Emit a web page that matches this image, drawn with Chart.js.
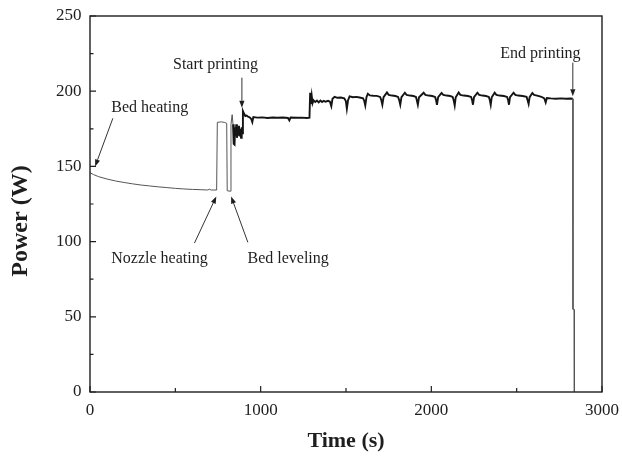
<!DOCTYPE html>
<html>
<head>
<meta charset="utf-8">
<script src="https://cdn.jsdelivr.net/npm/chart.js@4/dist/chart.umd.min.js"></script>
<style>
  html, body { margin: 0; padding: 0; background: #fff; }
  #wrap { width: 622px; height: 456px; }
</style>
</head>
<body>
<div id="wrap"><canvas id="c" width="622" height="456"></canvas></div>
<script>
// Printer power draw over one print job
const time = [
  0, 20, 50, 100, 150, 200, 250, 300, 350, 400, 450, 500, 550, 600, 650, 690, 700, 710, 742,
  746, 770, 790, 801, 804, 822, 826, 833, 838, 842, 847, 850, 853, 857, 861, 865, 869, 873, 877, 881, 885, 889, 893,
  896, 903, 910, 918, 926, 935, 945, 951, 957, 980, 1010, 1040, 1070, 1100, 1130, 1160, 1168, 1175, 1210, 1240, 1270, 1286,
  1290, 1294, 1299, 1304, 1310, 1320, 1330, 1340, 1350, 1360, 1370, 1380, 1395, 1406, 1414, 1421, 1433, 1450, 1470, 1490,
  1499, 1505, 1512, 1521, 1540, 1560, 1580, 1600, 1607, 1613, 1620, 1628, 1640, 1660, 1680, 1700,
  1707, 1713, 1720, 1740, 1750, 1770, 1790, 1805, 1812, 1818, 1825, 1845, 1855, 1875, 1895, 1910,
  1915, 1921, 1928, 1955, 1965, 1985, 2005, 2022, 2028, 2033, 2040, 2060, 2070, 2090, 2110, 2125,
  2131, 2137, 2143, 2160, 2170, 2190, 2215, 2233, 2239, 2244, 2250, 2270, 2280, 2300, 2320, 2337,
  2343, 2348, 2354, 2371, 2381, 2400, 2425, 2444, 2450, 2455, 2461, 2482, 2492, 2510, 2535, 2558,
  2564, 2570, 2576, 2592, 2602, 2620, 2645, 2662, 2670, 2677, 2700, 2730, 2760, 2790, 2815, 2829,
  2830, 2837, 2838
];
const power = [
  145.8, 144.6, 143.2, 141.6, 140.3, 139.3, 138.4, 137.6, 137.0, 136.4, 135.9, 135.4, 135.0, 134.7, 134.5, 134.3, 134.8, 134.3, 134.3,
  179.3, 179.6, 179.2, 178.6, 133.8, 133.5, 178, 184.4, 178, 165, 164.5, 176, 170, 178, 169, 176, 171, 177, 170, 175, 169, 176, 172,
  186.8, 185, 183.5, 183.8, 183, 182.7, 181.5, 179.5, 182.8, 182.4, 182.6, 182.2, 182.5, 182.3, 182.5, 182.2, 180.6, 182.5, 182.3, 182.4, 182.2, 182.4,
  199, 191.5, 197, 192, 194, 192.8, 193.8, 192.6, 193.8, 192.8, 193.6, 193, 193.6, 193, 190, 195, 196.3, 195.6, 195.8, 195.2,
  193.5, 188.3, 194, 196.6, 196, 196.2, 195.8, 195.3, 193.5, 190.5, 196, 198.3, 197.2, 197, 196.9, 196.2,
  194, 191, 196, 199.2, 197.6, 197.1, 196.8, 196.2, 194, 191, 196, 199, 197.6, 197.1, 196.8, 196.2,
  194, 191, 196, 199, 197.6, 197.1, 196.8, 196.2, 194, 191, 196, 198.8, 197.6, 197.1, 196.8, 196.2,
  194, 190.5, 196, 199.2, 197.6, 197.1, 196.8, 196.2, 194, 191, 196, 199, 197.6, 197.1, 196.8, 196.2,
  194, 191, 196, 199, 197.6, 197.1, 196.8, 196.2, 194, 191, 196, 199, 197.6, 197.1, 196.8, 196.2,
  194, 191.5, 196, 198.8, 197.6, 197.1, 196.3, 195.2, 192.5, 195.5, 195.2, 195, 195.2, 195, 195.1, 195,
  55, 54.8, 0
];

const xTicks = [0, 1000, 2000, 3000];
const yTicks = [0, 50, 100, 150, 200, 250];

// Labelled events: text anchor and arrow (tail -> head) in data units
const notes = [
  { text: 'Bed heating',    at: [350, 186],   from: [134, 182],  to: [30, 150] },
  { text: 'Nozzle heating', at: [407, 85.8],  from: [612, 99],   to: [740, 130] },
  { text: 'Bed leveling',   at: [1161, 86],   from: [925, 99.5], to: [827, 130] },
  { text: 'Start printing', at: [735, 215],   from: [890, 209],  to: [890, 189] },
  { text: 'End printing',   at: [2639, 222],  from: [2829, 219], to: [2829, 196.6] }
];

const SERIF = '"Liberation Serif", "Times New Roman", serif';
const INK = '#1e1e1e';

const frameAndNotes = {
  id: 'frameAndNotes',
  afterDatasetsDraw(chart) {
    const { ctx, chartArea: a, scales: { x, y } } = chart;
    ctx.save();

    // frame
    ctx.strokeStyle = INK;
    ctx.lineWidth = 1.4;
    ctx.strokeRect(a.left, a.top, a.right - a.left, a.bottom - a.top);

    // inward tick marks, major on tick values, minor halfway between
    ctx.lineWidth = 1.2;
    ctx.beginPath();
    yTicks.forEach((v, i) => {
      const py = y.getPixelForValue(v);
      ctx.moveTo(a.left, py); ctx.lineTo(a.left + 6, py);
      if (i < yTicks.length - 1) {
        const pm = y.getPixelForValue((v + yTicks[i + 1]) / 2);
        ctx.moveTo(a.left, pm); ctx.lineTo(a.left + 3.5, pm);
      }
    });
    xTicks.forEach((v, i) => {
      const px = x.getPixelForValue(v);
      ctx.moveTo(px, a.bottom); ctx.lineTo(px, a.bottom - 6);
      if (i < xTicks.length - 1) {
        const pm = x.getPixelForValue((v + xTicks[i + 1]) / 2);
        ctx.moveTo(pm, a.bottom); ctx.lineTo(pm, a.bottom - 4);
      }
    });
    ctx.stroke();

    // event labels with arrows
    ctx.font = '16px ' + SERIF;
    ctx.fillStyle = INK;
    ctx.textAlign = 'center';
    ctx.textBaseline = 'alphabetic';
    notes.forEach(n => {
      ctx.fillText(n.text, x.getPixelForValue(n.at[0]), y.getPixelForValue(n.at[1]));
      const x1 = x.getPixelForValue(n.from[0]), y1 = y.getPixelForValue(n.from[1]);
      const x2 = x.getPixelForValue(n.to[0]),   y2 = y.getPixelForValue(n.to[1]);
      const ang = Math.atan2(y2 - y1, x2 - x1);
      const head = 7, half = 2.6;
      const bx = x2 - head * Math.cos(ang), by = y2 - head * Math.sin(ang);
      ctx.strokeStyle = '#333';
      ctx.lineWidth = 1;
      ctx.beginPath();
      ctx.moveTo(x1, y1); ctx.lineTo(bx, by);
      ctx.stroke();
      ctx.beginPath();
      ctx.moveTo(x2, y2);
      ctx.lineTo(bx + half * Math.sin(ang), by - half * Math.cos(ang));
      ctx.lineTo(bx - half * Math.sin(ang), by + half * Math.cos(ang));
      ctx.closePath();
      ctx.fill();
    });

    // vertical axis title
    ctx.font = 'bold 24px ' + SERIF;
    ctx.textBaseline = 'middle';
    ctx.translate(a.left - 69, (a.top + a.bottom) / 2 + 17);
    ctx.rotate(-Math.PI / 2);
    ctx.fillText('Power (W)', 0, 0);
    ctx.restore();
  }
};

const printing = ctx => ctx.p0.parsed.x >= 835 && ctx.p0.parsed.x < 2829;

new Chart(document.getElementById('c'), {
  type: 'line',
  data: {
    datasets: [{
      data: time.map((t, i) => ({ x: t, y: power[i] })),
      borderColor: '#555',
      borderWidth: 1,
      pointRadius: 0,
      tension: 0,
      segment: {
        borderColor: c => printing(c) ? '#141414' : '#555',
        borderWidth: c => printing(c) ? 1.9 : 1
      }
    }]
  },
  options: {
    responsive: false,
    animation: false,
    layout: { padding: { top: 16, right: 20, bottom: 0, left: 0 } },
    plugins: { legend: { display: false }, tooltip: { enabled: false } },
    scales: {
      x: {
        type: 'linear',
        min: 0, max: 3000,
        afterBuildTicks: s => { s.ticks = xTicks.map(v => ({ value: v })); },
        afterFit: s => { s.height = 64; s.paddingLeft = 0; s.paddingRight = 0; },
        grid: { drawOnChartArea: false, drawTicks: false },
        border: { display: false },
        ticks: {
          padding: 8, color: INK, font: { family: SERIF, size: 17 }, maxRotation: 0,
          callback: v => String(v)
        },
        title: {
          display: true, text: 'Time (s)', color: INK,
          font: { family: SERIF, size: 22, weight: 'bold' },
          padding: { top: 0, bottom: 1 }
        }
      },
      y: {
        type: 'linear',
        min: 0, max: 250,
        afterBuildTicks: s => { s.ticks = yTicks.map(v => ({ value: v })); },
        afterFit: s => { s.width = 90; s.paddingTop = 0; s.paddingBottom = 0; },
        grid: { drawOnChartArea: false, drawTicks: false },
        border: { display: false },
        ticks: { padding: 8.5, color: INK, font: { family: SERIF, size: 17 }, callback: v => String(v) }
      }
    }
  },
  plugins: [frameAndNotes]
});
</script>
</body>
</html>
